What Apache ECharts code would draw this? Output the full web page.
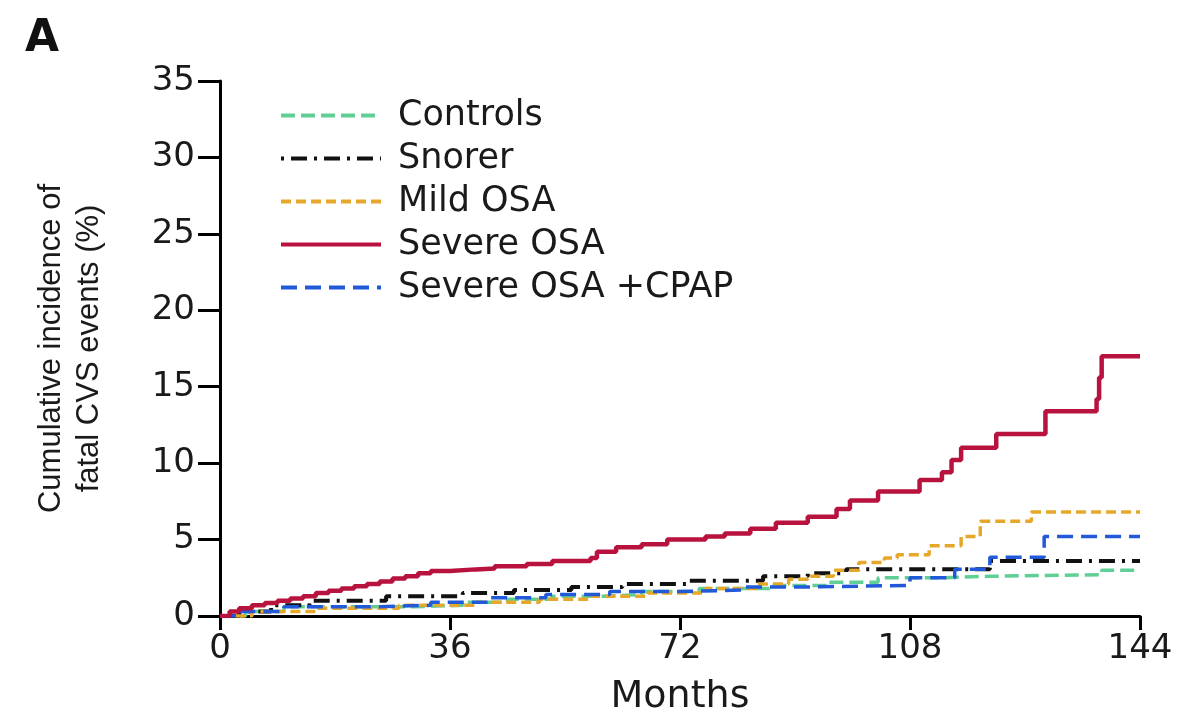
<!DOCTYPE html>
<html>
<head>
<meta charset="utf-8">
<script src="https://cdn.jsdelivr.net/npm/echarts@6/dist/echarts.min.js"></script>
<style>
html,body{margin:0;padding:0;background:#fff;}
#c{width:1191px;height:721px;}
</style>
</head>
<body>
<div id="c"></div>
<script>
// ---- data (months, cumulative incidence %) ----
const seriesNames = ['Controls', 'Snorer', 'Mild OSA', 'Severe OSA', 'Severe OSA +CPAP'];
const xTicks = [0, 36, 72, 108, 144];
const yTicks = [0, 5, 10, 15, 20, 25, 30, 35];

const controls = [[0,0],[4,0.3],[10,0.6],[30,0.7],[38,0.9],[45,1.1],[52,1.3],[60,1.4],[66,1.6],[75,1.8],[86,2.0],[95,2.2],[103,2.5],[113,2.6],[120.5,2.7],[138,3.0],[144,3.0]];
const snorer = [[0,0],[3,0.3],[8,0.7],[14,1.0],[26,1.3],[38,1.5],[46,1.7],[55,1.9],[63,2.1],[73,2.3],[85,2.6],[92,2.8],[98,3.06],[120.5,3.6],[144,3.6]];
const mildOSA = [[0,0],[5,0.3],[15,0.5],[28,0.7],[40,0.9],[50,1.1],[58,1.3],[67,1.5],[76,1.8],[84,2.1],[89,2.4],[92,2.6],[96,3.0],[100,3.5],[104,3.8],[106,4.0],[111,4.6],[116,5.2],[119,6.2],[127,6.8],[144,6.8]];
const severeOSA = [[0,0],[1.5,0.3],[3,0.5],[5,0.7],[7,0.85],[9,1.0],[11,1.15],[13,1.3],[15,1.5],[17,1.65],[19,1.8],[21,1.95],[23,2.1],[25,2.25],[27,2.45],[29,2.6],[31,2.8],[33,2.95],[36,3.05],[40,3.1],[43,3.25],[48,3.4],[52,3.6],[58,3.8],[59,4.2],[62,4.5],[66,4.7],[70,5.0],[76,5.2],[79,5.4],[83,5.7],[87,6.1],[92,6.5],[96.5,7.0],[98.6,7.55],[103,8.15],[109.5,8.9],[113,9.4],[114.5,10.2],[116,11.0],[121.5,11.9],[129.2,13.4],[137.2,14.2],[137.6,15.6],[138,17.0],[144,17.0]];
const severeCPAP = [[0,0],[3,0.3],[10,0.6],[24,0.7],[33,0.9],[42,1.2],[51,1.4],[61,1.6],[72,1.7],[82,1.9],[92,2.0],[108,2.5],[115,3.06],[120.5,3.85],[129,5.2],[144,5.2]];

const seriesData = [controls, snorer, mildOSA, severeOSA, severeCPAP];
const colors = ['#5fcf96', '#111111', '#e6a82a', '#b8123f', '#2159d9'];
const dashTypes = [[14,6], [3,7,16,7], [10,5], 'solid', [16,8]];
const widths = [3.5, 4, 3.5, 4.5, 3.5];

const chart = echarts.init(document.getElementById('c'), null, {renderer: 'canvas'});
const FONT = 'DejaVu Sans';

chart.setOption({
  animation: false,
  backgroundColor: '#ffffff',
  title: {
    text: 'A', left: 20, top: 13,
    textStyle: {fontFamily: FONT, fontWeight: 'bold', fontSize: 44, color: '#111'}
  },
  grid: {left: 220, right: 51, top: 81, bottom: 104, containLabel: false},
  legend: {
    show: true,
    orient: 'vertical',
    left: 274, top: 93,
    itemWidth: 100, itemHeight: 14, itemGap: 8,
    data: seriesNames.map(n => ({name: n})),
    itemStyle: {opacity: 0},
    lineStyle: {width: 4},
    textStyle: {fontFamily: FONT, fontSize: 35, color: '#1a1a1a', padding: [0,0,0,12]}
  },
  xAxis: {
    type: 'value', min: 0, max: 144, interval: 36,
    name: 'Months', nameLocation: 'middle', nameGap: 62,
    nameTextStyle: {fontFamily: FONT, fontSize: 38, color: '#1a1a1a'},
    axisLine: {show: true, lineStyle: {color: '#000', width: 3}},
    axisTick: {show: true, inside: false, length: 14, lineStyle: {color: '#000', width: 3}},
    axisLabel: {fontFamily: FONT, fontSize: 34, color: '#1a1a1a', margin: 16,
      formatter: v => xTicks.includes(v) ? String(v) : ''},
    splitLine: {show: false}
  },
  yAxis: {
    type: 'value', min: 0, max: 35, interval: 5,
    name: 'Cumulative incidence of\nfatal CVS events (%)', nameLocation: 'middle', nameGap: 112,
    nameTextStyle: {fontFamily: 'Liberation Sans', fontSize: 31, lineHeight: 38, color: '#1a1a1a'},
    axisLine: {show: true, lineStyle: {color: '#000', width: 3}},
    axisTick: {show: true, inside: false, length: 22, lineStyle: {color: '#000', width: 3}},
    axisLabel: {fontFamily: FONT, fontSize: 34, color: '#1a1a1a', margin: 25,
      formatter: v => yTicks.includes(v) ? String(v) : ''},
    splitLine: {show: false}
  },
  series: seriesNames.map((n, i) => ({
    name: n,
    type: 'line',
    step: 'end',
    data: seriesData[i],
    showSymbol: false,
    symbol: 'none',
    z: i === 3 ? 3 : 2,
    itemStyle: {color: colors[i]},
    lineStyle: {color: colors[i], width: widths[i], type: dashTypes[i]}
  }))
});
</script>
</body>
</html>
